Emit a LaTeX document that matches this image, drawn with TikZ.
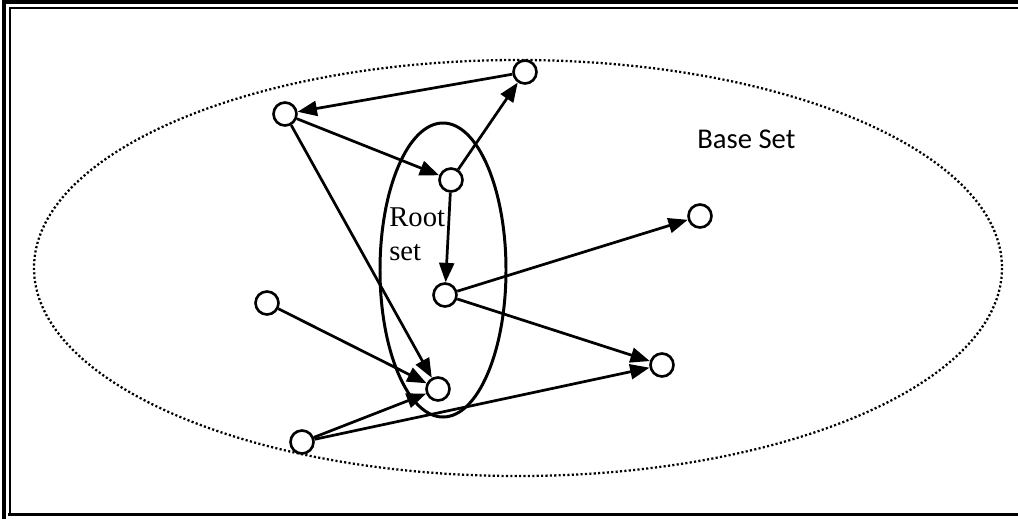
\documentclass[tikz,border=0pt]{standalone}
\usepackage{fontspec}
\setmainfont{Liberation Serif}
\newfontfamily\calibrifont{Carlito}
\usepackage{tikz}
\usetikzlibrary{arrows.meta,positioning}

\begin{document}
\begin{tikzpicture}[x=0.02cm, y=-0.02cm]
  \tikzstyle{page} = [line width=1.9pt, line cap=rect]
  \tikzstyle{pagenode} = [circle, draw, fill=white, inner sep=0pt, minimum size=0.46cm, line width=1.5pt]
  \tikzstyle{link} = [-{Triangle[length=11pt,width=8.5pt]}, line width=1.55pt]
  \tikzstyle{baseset} = [line width=1.3pt, dash pattern=on 1.2pt off 1.3pt]
  \tikzstyle{rootset} = [line width=1.7pt]

  \useasboundingbox (0,0) rectangle (1018,518);
  \draw[page] (4,518) -- (4,2) -- (1018,2);
  \draw[page, line width=1.6pt] (10,8) -- (1018,8);
  \draw[page, line width=1.6pt] (10,8) -- (10,514);
  \draw[page, line width=2.2pt] (10,514.5) -- (1018,514.5);

  \draw[baseset] (518,268) ellipse [x radius=484, y radius=208];
  \draw[rootset] (443,270) ellipse [x radius=63, y radius=147];

  \node [pagenode] (hub1) at (285,114) {};
  \node [pagenode] (top) at (525,72) {};
  \node [pagenode] (root1) at (451,180) {};
  \node [pagenode] (right1) at (700,216) {};
  \node [pagenode] (root2) at (445,295) {};
  \node [pagenode] (left1) at (267,303) {};
  \node [pagenode] (root3) at (438,389) {};
  \node [pagenode] (right2) at (662,365) {};
  \node [pagenode] (hub2) at (302,442) {};

  \node [anchor=north west, inner sep=0pt, align=left, font=\fontsize{16.3}{19.3}\selectfont] (rootlabel) at (389,207) {Root\\set};
  \node [anchor=base west, inner sep=0pt, font=\calibrifont\fontsize{16.3}{19}\selectfont] (baselabel) at (697,148) {Base Set};

  \draw [link] (top) -- (hub1);
  \draw [link] (hub1) -- (root1);
  \draw [link] (hub1) -- (root3);
  \draw [link] (root1) -- (top);
  \draw [link] (root1) -- (root2);
  \draw [link] (root2) -- (right1);
  \draw [link] (root2) -- (right2);
  \draw [link] (left1) -- (root3);
  \draw [link] (hub2) -- (root3);
  \draw [link] (hub2) -- (right2);
\end{tikzpicture}
\end{document}
